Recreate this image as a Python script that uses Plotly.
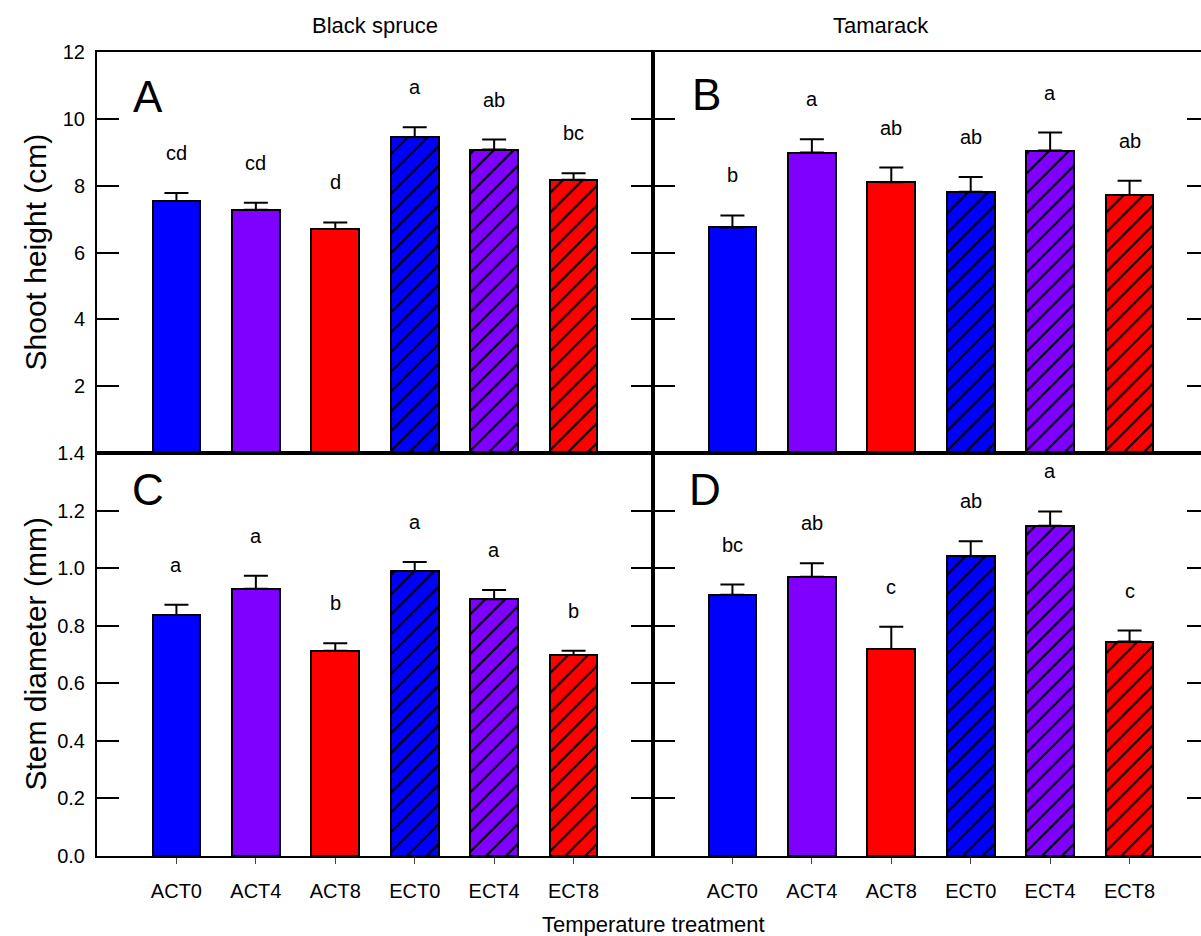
import plotly.graph_objects as go

categories = ["ACT0", "ACT4", "ACT8", "ECT0", "ECT4", "ECT8"]
bar_colors = ["#0000FF", "#7F00FF", "#FF0000", "#0000FF", "#7F00FF", "#FF0000"]
hatch = ["", "", "", "/", "/", "/"]

spruce_height = [7.54, 7.28, 6.70, 9.45, 9.08, 8.18]
spruce_height_se = [0.24, 0.21, 0.20, 0.30, 0.30, 0.19]
spruce_height_letters = ["cd", "cd", "d", "a", "ab", "bc"]

tamarack_height = [6.75, 8.99, 8.10, 7.82, 9.05, 7.72]
tamarack_height_se = [0.36, 0.40, 0.44, 0.44, 0.54, 0.43]
tamarack_height_letters = ["b", "a", "ab", "ab", "a", "ab"]

spruce_diam = [0.837, 0.928, 0.713, 0.990, 0.892, 0.698]
spruce_diam_se = [0.036, 0.046, 0.026, 0.031, 0.032, 0.015]
spruce_diam_letters = ["a", "a", "b", "a", "a", "b"]

tamarack_diam = [0.908, 0.970, 0.719, 1.041, 1.147, 0.745]
tamarack_diam_se = [0.035, 0.047, 0.077, 0.052, 0.050, 0.038]
tamarack_diam_letters = ["bc", "ab", "c", "ab", "a", "c"]

height_ticks = [2, 4, 6, 8, 10, 12]
diam_ticks = [0.0, 0.2, 0.4, 0.6, 0.8, 1.0, 1.2, 1.4]

W, H = 1201, 936
FONT = "Arial, Liberation Sans, sans-serif"

# pixel geometry
x_left0, x_mid, x_right_end = 97, 653, 1209
y_top, y_div, y_bot = 52, 453, 856
slot = (x_mid - x_left0) / 7.0

def fx(px):
    return px / W

def fy(py):
    return 1 - py / H

fig = go.Figure()

panels = [
    ("x", "y", spruce_height, spruce_height_se, spruce_height_letters),
    ("x2", "y2", tamarack_height, tamarack_height_se, tamarack_height_letters),
    ("x3", "y3", spruce_diam, spruce_diam_se, spruce_diam_letters),
    ("x4", "y4", tamarack_diam, tamarack_diam_se, tamarack_diam_letters),
]

for xa, ya, vals, se, letters in panels:
    for c, v, s, col, hp, l in zip(categories, vals, se, bar_colors, hatch, letters):
        marker = dict(color=col, line=dict(color="black", width=2))
        if hp:
            marker["pattern"] = dict(shape=hp, fgcolor="black", bgcolor=col, fgopacity=1,
                                     fillmode="replace", size=14, solidity=0.15)
        fig.add_trace(go.Bar(
            x=[c], y=[v], xaxis=xa, yaxis=ya, width=0.6, marker=marker,
            error_y=dict(type="data", array=[s], arrayminus=[0], symmetric=False,
                         color="black", thickness=2, width=12),
            showlegend=False, hoverinfo="skip",
        ))
        fig.add_annotation(x=c, y=v + s, xref=xa, yref=ya, text=l, showarrow=False,
                           yshift=40, yanchor="middle",
                           font=dict(family=FONT, size=20, color="black"))

# invisible traces for right-edge tick axes
fig.add_trace(go.Scatter(x=[categories[0]], y=[0], xaxis="x2", yaxis="y5", mode="markers",
                         marker=dict(opacity=0), showlegend=False, hoverinfo="skip"))
fig.add_trace(go.Scatter(x=[categories[0]], y=[0], xaxis="x4", yaxis="y6", mode="markers",
                         marker=dict(opacity=0), showlegend=False, hoverinfo="skip"))

left_dom = [fx(x_left0), fx(x_mid)]
right_dom = [fx(x_mid), 1.0]
top_dom = [fy(y_div), fy(y_top)]
bot_dom = [fy(y_bot), fy(y_div)]
right_range = [-1, -1 + (W - x_mid) / slot]

line = dict(showline=True, linecolor="black", linewidth=2, showgrid=False, zeroline=False,
            automargin=False)
tickfont = dict(family=FONT, size=20, color="black")

xtop = dict(**line, type="category", categoryorder="array", categoryarray=categories,
            mirror=True, ticks="", showticklabels=False)
xbot = dict(**line, type="category", categoryorder="array", categoryarray=categories,
            mirror=True, ticks="outside", ticklen=6, tickwidth=1,
            tickcolor="#444", tickfont=tickfont, ticklabelstandoff=10)

yleft = dict(**line, mirror="ticks", ticks="inside", ticklen=22, tickwidth=2, tickcolor="black",
             tickfont=tickfont, ticklabelstandoff=6)
yright = dict(**line, mirror=False, ticks="inside", ticklen=22, tickwidth=2, tickcolor="black",
              showticklabels=False)
yextra = dict(ticks="inside", ticklen=14, tickwidth=2, tickcolor="black", showline=False,
              showgrid=False, zeroline=False, showticklabels=False, automargin=False)

fig.update_layout(
    template="none",
    width=W, height=H,
    margin=dict(l=0, r=0, t=0, b=0, pad=0, autoexpand=False),
    paper_bgcolor="white", plot_bgcolor="white",
    barmode="overlay", bargap=0,
    xaxis=dict(**xtop, domain=left_dom, anchor="y", range=[-1, 6]),
    xaxis2=dict(**xtop, domain=right_dom, anchor="y2", range=right_range),
    xaxis3=dict(**xbot, domain=left_dom, anchor="y3", range=[-1, 6]),
    xaxis4=dict(**xbot, domain=right_dom, anchor="y4", range=right_range),
    yaxis=dict(**yleft, domain=top_dom, anchor="x", range=[0, 12], tickvals=height_ticks),
    yaxis2=dict(**yright, domain=top_dom, anchor="x2", range=[0, 12], tickvals=height_ticks),
    yaxis3=dict(**yleft, domain=bot_dom, anchor="x3", range=[0, 1.4], tickvals=diam_ticks,
                ticktext=[f"{t:.1f}" for t in diam_ticks]),
    yaxis4=dict(**yright, domain=bot_dom, anchor="x4", range=[0, 1.4], tickvals=diam_ticks),
    yaxis5=dict(**yextra, overlaying="y2", anchor="x2", side="right", range=[0, 12],
                tickvals=height_ticks),
    yaxis6=dict(**yextra, overlaying="y4", anchor="x4", side="right", range=[0, 1.4],
                tickvals=diam_ticks),
)

txt = dict(family=FONT, size=22, color="black")
# column titles
fig.add_annotation(x=0.5, y=fy(25), xref="x domain", yref="paper", text="Black spruce",
                   showarrow=False, font=txt, yanchor="middle")
fig.add_annotation(x=fx((x_mid + x_right_end) / 2), y=fy(25), xref="paper", yref="paper",
                   text="Tamarack", showarrow=False, font=txt, yanchor="middle")
# x title
fig.add_annotation(x=fx((x_left0 + x_right_end) / 2), y=fy(924), xref="paper", yref="paper",
                   text="Temperature treatment", showarrow=False, font=txt, yanchor="middle")
# y titles
fig.add_annotation(x=fx(35), y=fy((y_top + y_div) / 2), xref="paper", yref="paper",
                   text="Shoot height (cm)", textangle=-90, showarrow=False,
                   font=dict(family=FONT, size=30, color="black"), xanchor="center", yanchor="middle")
fig.add_annotation(x=fx(35), y=fy((y_div + y_bot) / 2), xref="paper", yref="paper",
                   text="Stem diameter (mm)", textangle=-90, showarrow=False,
                   font=dict(family=FONT, size=30, color="black"), xanchor="center", yanchor="middle")

# panel letters
big = dict(family=FONT, size=44, color="black")
for ref, xr, yv, lab in [("x", 0.092, 0.89, "A"), ("x2", 0.097, 0.895, "B"),
                         ("x3", 0.092, 0.91, "C"), ("x4", 0.095, 0.91, "D")]:
    yref = ref.replace("x", "y")
    fig.add_annotation(x=xr, y=yv, xref=f"{ref} domain", yref=f"{yref} domain", text=lab,
                       showarrow=False, font=big, xanchor="center", yanchor="middle")

fig.write_html("out.html")
